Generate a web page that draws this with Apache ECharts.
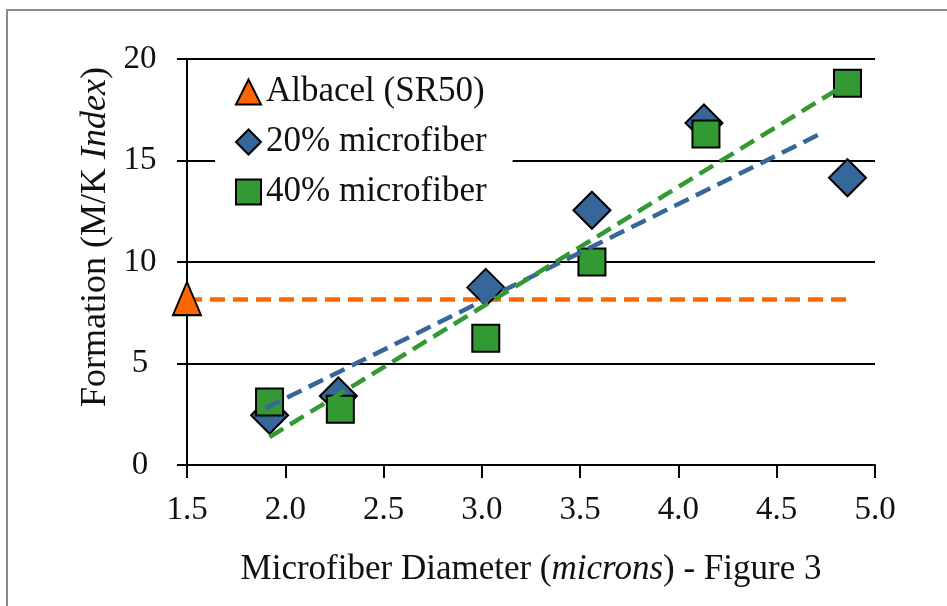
<!DOCTYPE html>
<html>
<head>
<meta charset="utf-8">
<script src="https://cdn.jsdelivr.net/npm/echarts@6/dist/echarts.min.js"></script>
<style>
html,body{margin:0;padding:0;background:#fff;}
#c{width:947px;height:606px;}
</style>
</head>
<body>
<div id="c"></div>
<script>
// ---- data ----
var xTicks = [1.5, 2.0, 2.5, 3.0, 3.5, 4.0, 4.5, 5.0];
var yTicks = [0, 5, 10, 15, 20];
var seriesNames = ['Albacel (SR50)', '20% microfiber', '40% microfiber'];
var albacelPoint = [[1.5, 8.2]];
var albacelLine = [[1.5, 8.15], [4.89, 8.15]];
var micro20 = [[1.92, 2.45], [2.27, 3.4], [3.02, 8.75], [3.56, 12.55], [4.13, 16.85], [4.86, 14.15]];
var micro40 = [[1.92, 3.1], [2.28, 2.75], [3.02, 6.25], [3.56, 10.0], [4.14, 16.3], [4.86, 18.8]];
var trend20 = [[1.9, 2.8], [4.74, 16.4]];
var trend40 = [[1.92, 1.38], [4.86, 18.8]];

var FONT = 'Liberation Serif';
var ORANGE = '#FF6600', BLUE = '#376699', GREEN = '#339933';

var chart = echarts.init(document.getElementById('c'), null, {renderer: 'canvas'});
chart.setOption({
  animation: false,
  backgroundColor: '#fff',
  grid: {left: 187, right: 72, top: 59, bottom: 141, containLabel: false},
  xAxis: {
    type: 'value', min: xTicks[0], max: xTicks[xTicks.length - 1], interval: 0.5,
    axisLine: {show: true, lineStyle: {color: '#000', width: 2}},
    axisTick: {show: true, length: 13, lineStyle: {color: '#000', width: 2}},
    axisLabel: {fontFamily: FONT, fontSize: 33, color: '#111', margin: 29,
      formatter: function (v) { return v.toFixed(1); }},
    splitLine: {show: false}
  },
  yAxis: {
    type: 'value', min: yTicks[0], max: yTicks[yTicks.length - 1], interval: 5,
    axisLine: {show: true, lineStyle: {color: '#000', width: 2}},
    axisTick: {show: true, length: 10, lineStyle: {color: '#000', width: 2}},
    axisLabel: {fontFamily: FONT, fontSize: 33, color: '#111', margin: 47, align: 'center'},
    splitLine: {show: true, lineStyle: {color: '#000', width: 2}}
  },
  legend: {
    data: [
      {name: seriesNames[0], icon: 'triangle'},
      {name: seriesNames[1], icon: 'diamond'},
      {name: seriesNames[2], icon: 'rect'}
    ],
    orient: 'vertical', left: 215, top: 64,
    backgroundColor: '#fff', padding: [10, 26, 8, 20],
    itemWidth: 25, itemHeight: 25, itemGap: 14, itemTextGap: 6,
    textStyle: {fontFamily: FONT, fontSize: 35, color: '#111', lineHeight: 36},
    z: 10
  },
  graphic: [
    {type: 'rect', silent: true, z: 100,
      shape: {x: 7, y: 10, width: 1000, height: 1000},
      style: {fill: 'none', stroke: '#8a8a8a', lineWidth: 2}},
    {type: 'text', silent: true, x: 531, y: 570,
      style: {text: '{a|Microfiber Diameter (}{i|microns}{a|) - Figure 3}',
        align: 'center', verticalAlign: 'middle',
        rich: {a: {fontFamily: FONT, fontSize: 35, fill: '#111'},
               i: {fontFamily: FONT, fontSize: 35, fontStyle: 'italic', fill: '#111'}}}},
    {type: 'text', silent: true, x: 96, y: 237, rotation: Math.PI / 2,
      style: {text: '{a|Formation (M/K }{i|Index}{a|)}',
        align: 'center', verticalAlign: 'middle',
        rich: {a: {fontFamily: FONT, fontSize: 36, fill: '#111'},
               i: {fontFamily: FONT, fontSize: 36, fontStyle: 'italic', fill: '#111'}}}}
  ],
  series: [
    {name: 'Albacel line', type: 'line', data: albacelLine, symbol: 'none', z: 1,
      lineStyle: {color: ORANGE, width: 4.5, type: [15, 8]}, silent: true},
    {name: seriesNames[0], type: 'scatter', data: albacelPoint, symbol: 'triangle',
      symbolSize: [28, 33], clip: false, z: 2,
      itemStyle: {color: ORANGE, borderColor: '#000', borderWidth: 2, opacity: 1}},
    {name: seriesNames[1], type: 'scatter', data: micro20, symbol: 'diamond',
      symbolSize: 37, clip: false, z: 2,
      itemStyle: {color: BLUE, borderColor: '#000', borderWidth: 2, opacity: 1}},
    {name: seriesNames[2], type: 'scatter', data: micro40, symbol: 'rect',
      symbolSize: 27, clip: false, z: 3,
      itemStyle: {color: GREEN, borderColor: '#000', borderWidth: 2, opacity: 1}},
    {name: 'trend20', type: 'line', data: trend20, symbol: 'none', z: 5, silent: true,
      lineStyle: {color: BLUE, width: 4.5, type: [16, 8]}},
    {name: 'trend40', type: 'line', data: trend40, symbol: 'none', z: 5, silent: true,
      lineStyle: {color: GREEN, width: 4.5, type: [16, 8]}}
  ]
});
</script>
</body>
</html>
